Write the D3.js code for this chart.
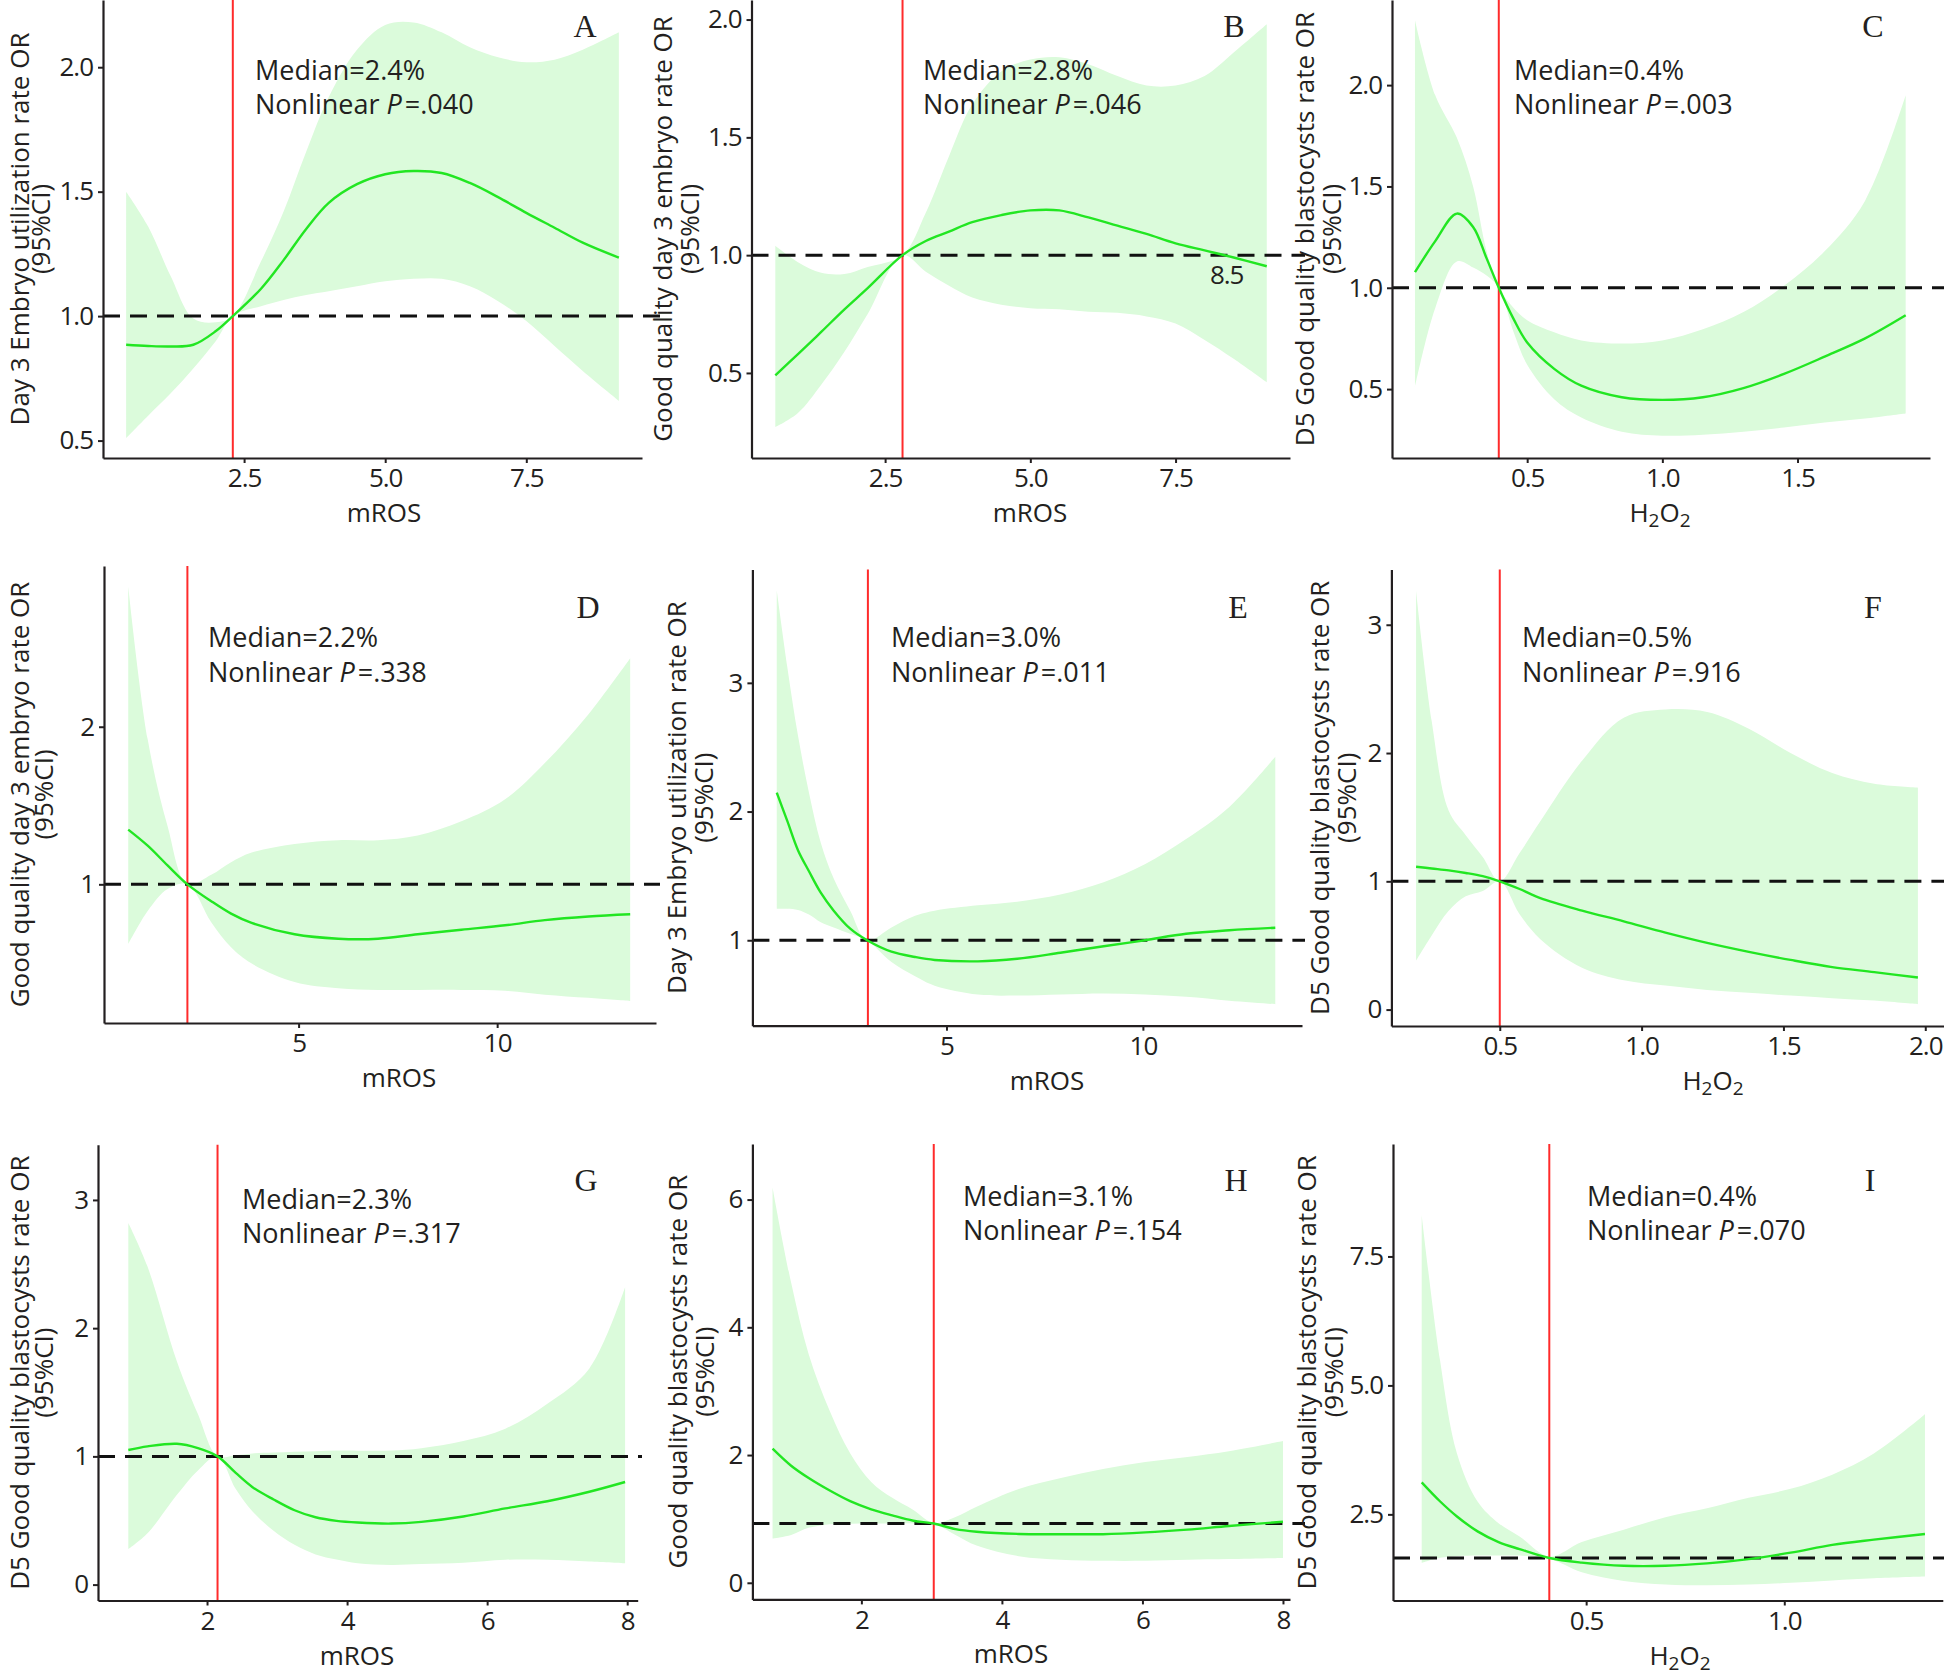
<!DOCTYPE html>
<html><head><meta charset="utf-8">
<script src="https://cdn.jsdelivr.net/npm/d3@7"></script>
<style>
body{margin:0;background:#fff}
svg{display:block;background:#fff}
text{font-family:"Open Sans",sans-serif;fill:#231f20}
</style>
</head><body>
<svg id="chart" width="1944" height="1676"></svg>
<script>
// ---------------- DATA ----------------
const panelIds = ["A","B","C","D","E","F","G","H","I"];

const aX   = [0.41,0.8,1.2,1.6,2.0,2.3,2.8,3.2,3.6,4.0,4.5,5.0,5.5,6.0,6.5,7.0,7.5,8.0,8.5,9.14];
const aFit = [0.885,0.88,0.878,0.885,0.94,1.0,1.11,1.225,1.35,1.455,1.53,1.57,1.583,1.575,1.535,1.478,1.415,1.355,1.295,1.235];
const aHi  = [1.50,1.36,1.16,0.99,0.975,1.0,1.22,1.42,1.66,1.88,2.07,2.17,2.18,2.14,2.08,2.04,2.02,2.03,2.07,2.14];
const aLo  = [0.51,0.60,0.69,0.79,0.90,1.0,1.04,1.065,1.085,1.10,1.12,1.14,1.15,1.15,1.12,1.06,0.98,0.88,0.78,0.66];

const bX   = [0.61,1.0,1.4,1.8,2.2,2.8,3.2,3.6,4.0,4.5,5.0,5.5,6.0,6.5,7.0,7.5,8.0,8.5,9.07];
const bFit = [0.49,0.58,0.674,0.77,0.86,1.0,1.06,1.10,1.14,1.17,1.19,1.19,1.16,1.125,1.09,1.05,1.02,0.99,0.953];
const bHi  = [1.04,0.97,0.925,0.92,0.95,1.0,1.18,1.42,1.64,1.78,1.83,1.84,1.81,1.76,1.72,1.72,1.76,1.86,1.98];
const bLo  = [0.27,0.33,0.45,0.59,0.75,1.0,0.93,0.87,0.82,0.79,0.775,0.77,0.76,0.755,0.74,0.71,0.64,0.56,0.46];

const cX   = [0.085,0.16,0.24,0.3,0.35,0.395,0.45,0.5,0.6,0.7,0.85,1.0,1.15,1.3,1.45,1.6,1.75,1.9];
const cFit = [1.077,1.23,1.366,1.30,1.145,1.0,0.845,0.73,0.60,0.517,0.46,0.447,0.46,0.505,0.575,0.66,0.75,0.864];
const cHi  = [2.32,1.95,1.74,1.50,1.18,1.0,0.90,0.84,0.78,0.74,0.725,0.74,0.795,0.88,1.01,1.18,1.43,1.95];
const cLo  = [0.51,0.90,1.13,1.10,1.06,1.0,0.78,0.62,0.45,0.36,0.29,0.27,0.275,0.29,0.31,0.335,0.355,0.38];

const dX   = [0.71,1.2,1.7,2.2,2.8,3.3,3.8,4.9,6.0,7.0,8.0,9.1,10.2,11.2,12.3,13.35];
const dFit = [1.347,1.245,1.12,1.0,0.893,0.814,0.757,0.683,0.655,0.655,0.683,0.712,0.74,0.773,0.796,0.81];
const dHi  = [2.89,1.92,1.37,1.0,1.06,1.14,1.20,1.256,1.28,1.28,1.31,1.40,1.54,1.77,2.08,2.435];
const dLo  = [0.62,0.83,0.97,1.0,0.76,0.60,0.50,0.38,0.34,0.33,0.33,0.33,0.325,0.30,0.28,0.26];

const eX   = [0.68,0.95,1.22,1.5,1.8,2.13,2.55,2.98,3.6,4.2,4.7,5.8,6.8,7.9,9.0,10.05,11.1,12.2,13.37];
const eFit = [2.147,1.925,1.70,1.536,1.37,1.23,1.09,1.0,0.911,0.87,0.847,0.836,0.856,0.903,0.953,1.0,1.05,1.078,1.097];
const eHi  = [3.717,3.12,2.59,2.147,1.758,1.48,1.23,1.0,1.10,1.19,1.23,1.272,1.30,1.355,1.45,1.59,1.786,2.036,2.425];
const eLo  = [1.244,1.244,1.235,1.20,1.14,1.10,1.05,1.0,0.83,0.72,0.647,0.578,0.57,0.578,0.586,0.578,0.56,0.53,0.503];

const fX   = [0.205,0.26,0.32,0.38,0.44,0.5,0.57,0.643,0.79,0.937,1.084,1.231,1.378,1.525,1.672,1.82,1.974];
const fFit = [1.114,1.10,1.085,1.065,1.04,1.0,0.94,0.869,0.772,0.688,0.60,0.52,0.45,0.387,0.331,0.292,0.25];
const fHi  = [3.265,2.25,1.55,1.36,1.19,1.0,1.22,1.468,1.94,2.276,2.34,2.32,2.19,2.0,1.844,1.76,1.73];
const fLo  = [0.38,0.577,0.77,0.883,0.925,1.0,0.744,0.549,0.326,0.228,0.187,0.153,0.131,0.109,0.089,0.07,0.042];

const gX   = [0.876,1.15,1.57,1.87,2.15,2.41,2.65,2.95,3.25,3.55,3.85,4.15,4.63,5.06,5.66,6.26,6.86,7.46,7.97];
const gFit = [1.05,1.078,1.098,1.064,1.0,0.871,0.76,0.664,0.58,0.525,0.497,0.484,0.476,0.489,0.531,0.594,0.65,0.724,0.80];
const gHi  = [2.82,2.48,1.74,1.33,1.0,1.009,1.023,1.03,1.037,1.04,1.045,1.044,1.045,1.064,1.12,1.216,1.41,1.686,2.32];
const gLo  = [0.276,0.40,0.70,0.89,1.0,0.746,0.57,0.42,0.31,0.235,0.195,0.166,0.153,0.16,0.171,0.194,0.194,0.18,0.166];

const hX   = [0.736,1.0,1.25,1.55,1.84,2.14,2.44,2.74,3.03,3.34,3.64,4.24,4.84,5.44,6.04,6.64,7.23,8.0];
const hFit = [2.10,1.833,1.64,1.444,1.278,1.15,1.055,0.972,0.928,0.84,0.80,0.765,0.761,0.761,0.789,0.833,0.889,0.956];
const hHi  = [6.19,4.7,3.58,2.69,2.03,1.58,1.33,1.14,0.935,1.03,1.19,1.47,1.64,1.78,1.89,1.97,2.06,2.22];
const hLo  = [0.694,0.75,0.86,0.917,0.925,0.928,0.93,0.93,0.92,0.75,0.583,0.417,0.361,0.344,0.344,0.361,0.372,0.389];

const iX   = [0.085,0.131,0.174,0.226,0.279,0.332,0.407,0.489,0.595,0.70,0.805,0.91,1.016,1.121,1.226,1.355];
const iFit = [3.12,2.754,2.459,2.17,1.963,1.826,1.654,1.565,1.503,1.503,1.55,1.633,1.757,1.908,2.01,2.12];
const iHi  = [8.3,5.5,3.68,2.75,2.33,2.07,1.68,1.963,2.204,2.445,2.617,2.82,2.995,3.27,3.68,4.44];
const iLo  = [1.56,1.66,1.69,1.70,1.70,1.70,1.64,1.38,1.21,1.138,1.124,1.138,1.173,1.22,1.262,1.296];

const medianLine = [2.3, 2.8, 0.395, 2.2, 3.0, 0.5, 2.15, 3.03, 0.407];
const refLine    = [1, 1, 1, 1, 1, 1, 1, 0.928, 1.654];
const medianText = ["2.4%","2.8%","0.4%","2.2%","3.0%","0.5%","2.3%","3.1%","0.4%"];
const pText      = [".040",".046",".003",".338",".011",".916",".317",".154",".070"];

const xTickVals = [[2.5,5,7.5],[2.5,5,7.5],[0.5,1,1.5],[5,10],[5,10],[0.5,1,1.5,2],[2,4,6,8],[2,4,6,8],[0.5,1]];
const xTickText = [["2.5","5.0","7.5"],["2.5","5.0","7.5"],["0.5","1.0","1.5"],["5","10"],["5","10"],["0.5","1.0","1.5","2.0"],["2","4","6","8"],["2","4","6","8"],["0.5","1.0"]];
const yTickVals = [[0.5,1,1.5,2],[0.5,1,1.5,2],[0.5,1,1.5,2],[1,2],[1,2,3],[0,1,2,3],[0,1,2,3],[0,2,4,6],[2.5,5,7.5]];
const yTickText = [["0.5","1.0","1.5","2.0"],["0.5","1.0","1.5","2.0"],["0.5","1.0","1.5","2.0"],["1","2"],["1","2","3"],["0","1","2","3"],["0","1","2","3"],["0","2","4","6"],["2.5","5.0","7.5"]];

const yTitles = ["Day 3 Embryo utilization rate OR","Good quality day 3 embryo rate OR","D5 Good quality blastocysts rate OR",
                 "Good quality day 3 embryo rate OR","Day 3 Embryo utilization rate OR","D5 Good quality blastocysts rate OR",
                 "D5 Good quality blastocysts rate OR","Good quality blastocysts rate OR","D5 Good quality blastocysts rate OR"];
const xTitles = ["mROS","mROS","H2O2","mROS","mROS","H2O2","mROS","mROS","H2O2"];
const extraLabel = {B: {x: 8.38, y: 0.877, text: "8.5"}};

// ---------------- LAYOUT (pixels / scale domains) ----------------
const layout = [
  {rect:[103,0,642,458],          xDom:[0,9.55],      yDom:[0.43,2.27],   dashEnd:660,  ann:[255,79.5],   letter:[585,37],   yOff:74, yOff2:53, xlab:384},
  {rect:[751.5,0,1290,458],       xDom:[0.2,9.47],    yDom:[0.139,2.083], dashEnd:1305, ann:[923,79.5],   letter:[1234,37],  yOff:80, yOff2:53, xlab:1030},
  {rect:[1392,0,1930,458],        xDom:[0,1.99],      yDom:[0.16,2.42],   dashEnd:1944, ann:[1514,79.5],  letter:[1873,37],  yOff:78, yOff2:51, xlab:1660},
  {rect:[104,566,656,1023],       xDom:[0.1,14.0],    yDom:[0.12,3.02],   dashEnd:660,  ann:[208,647],    letter:[588,618],  yOff:75, yOff2:51, xlab:399},
  {rect:[752.4,569.6,1302,1025.7],xDom:[0.06,14.05],  yDom:[0.336,3.88],  dashEnd:1305, ann:[891,647],    letter:[1238,618], yOff:66, yOff2:39, xlab:1047},
  {rect:[1391.4,569.6,1944,1026], xDom:[0.118,2.066], yDom:[-0.128,3.43], dashEnd:1944, ann:[1522,647],   letter:[1873,618], yOff:62, yOff2:35, xlab:1713},
  {rect:[98,1144.8,637.7,1600.5], xDom:[0.443,8.15],  yDom:[-0.124,3.43], dashEnd:642,  ann:[242,1208.6], letter:[586,1191], yOff:69, yOff2:45, xlab:357},
  {rect:[752.4,1144,1290,1599.4], xDom:[0.449,8.1],   yDom:[-0.26,6.87],  dashEnd:1305, ann:[963,1205.8], letter:[1236,1191],yOff:65, yOff2:38, xlab:1011},
  {rect:[1393,1144,1942.8,1600.5],xDom:[0.0126,1.4],  yDom:[0.83,9.68],   dashEnd:1944, ann:[1587,1205.8],letter:[1870,1191],yOff:77, yOff2:50, xlab:1680}
];

const seriesX   = [aX,bX,cX,dX,eX,fX,gX,hX,iX];
const seriesFit = [aFit,bFit,cFit,dFit,eFit,fFit,gFit,hFit,iFit];
const seriesHi  = [aHi,bHi,cHi,dHi,eHi,fHi,gHi,hHi,iHi];
const seriesLo  = [aLo,bLo,cLo,dLo,eLo,fLo,gLo,hLo,iLo];

// ---------------- DRAW ----------------
const svg = d3.select("#chart");
const INK = "#231f20";
const FS = 26;
const FS_ANN = 27;
const curve = d3.curveCatmullRom.alpha(0.5);

panelIds.forEach((id, k) => {
  const L = layout[k];
  const [x0, y0, x1, y1] = L.rect;
  const x = d3.scaleLinear().domain(L.xDom).range([x0, x1]);
  const y = d3.scaleLinear().domain(L.yDom).range([y1, y0]);
  const rows = seriesX[k].map((v, i) => ({x: v, fit: seriesFit[k][i], lo: seriesLo[k][i], hi: seriesHi[k][i]}));
  const g = svg.append("g").attr("class", "panel-" + id);

  // confidence band
  g.append("path").datum(rows)
    .attr("fill", "#dbfbdb")
    .attr("d", d3.area().x(d => x(d.x)).y0(d => y(d.lo)).y1(d => y(d.hi)).curve(curve));

  // median (red) line
  g.append("line")
    .attr("x1", x(medianLine[k])).attr("x2", x(medianLine[k]))
    .attr("y1", y0).attr("y2", y1)
    .attr("stroke", "#ff2b2b").attr("stroke-width", 2);

  // reference dashed line
  g.append("line")
    .attr("x1", x0).attr("x2", L.dashEnd)
    .attr("y1", y(refLine[k])).attr("y2", y(refLine[k]))
    .attr("stroke", "#111").attr("stroke-width", 3)
    .attr("stroke-dasharray", "17,10");

  // fitted curve
  g.append("path").datum(rows)
    .attr("fill", "none").attr("stroke", "#22e622").attr("stroke-width", 2.4)
    .attr("d", d3.line().x(d => x(d.x)).y(d => y(d.fit)).curve(curve));

  // axes
  const xa = g.append("g").attr("transform", `translate(0,${y1})`)
    .call(d3.axisBottom(x).tickValues(xTickVals[k]).tickFormat((d, i) => xTickText[k][i])
      .tickSizeInner(5).tickSizeOuter(0).tickPadding(6));
  const ya = g.append("g").attr("transform", `translate(${x0},0)`)
    .call(d3.axisLeft(y).tickValues(yTickVals[k]).tickFormat((d, i) => yTickText[k][i])
      .tickSizeInner(5).tickSizeOuter(0).tickPadding(5));
  [xa, ya].forEach(a => {
    a.select(".domain").attr("stroke", INK).attr("stroke-width", 2.2);
    a.selectAll(".tick line").attr("stroke", INK).attr("stroke-width", 2);
    a.selectAll(".tick text").attr("font-size", FS).attr("font-family", '"Open Sans",sans-serif')
      .attr("fill", INK).style("letter-spacing", "-1px");
  });

  // y title (two lines)
  const cy = (y0 + y1) / 2;
  g.append("text")
    .attr("transform", `translate(${x0 - L.yOff},${cy}) rotate(-90)`)
    .attr("text-anchor", "middle").attr("font-size", FS).text(yTitles[k]);
  g.append("text")
    .attr("transform", `translate(${x0 - L.yOff2},${cy}) rotate(-90)`)
    .attr("text-anchor", "middle").attr("font-size", FS).text("(95%CI)");

  // x title
  const xt = g.append("text").attr("x", L.xlab).attr("y", y1 + 64)
    .attr("text-anchor", "middle").attr("font-size", FS);
  if (xTitles[k] === "H2O2") {
    xt.append("tspan").text("H");
    xt.append("tspan").attr("font-size", 19).attr("dy", 5).text("2");
    xt.append("tspan").attr("dy", -5).text("O");
    xt.append("tspan").attr("font-size", 19).attr("dy", 5).text("2");
  } else {
    xt.text(xTitles[k]);
  }

  // annotation
  g.append("text").attr("x", L.ann[0]).attr("y", L.ann[1]).attr("font-size", FS_ANN)
    .text("Median=" + medianText[k]);
  const t2 = g.append("text").attr("x", L.ann[0]).attr("y", L.ann[1] + 34.5).attr("font-size", FS_ANN);
  t2.append("tspan").text("Nonlinear ");
  t2.append("tspan").attr("font-style", "italic").text("P");
  t2.append("tspan").attr("dx", 3).text("=" + pText[k]);

  // panel letter
  g.append("text").attr("x", L.letter[0]).attr("y", L.letter[1])
    .attr("text-anchor", "middle").attr("font-size", 32)
    .style("font-family", '"Liberation Serif","Times New Roman",serif')
    .text(id);

  // extra label
  if (extraLabel[id]) {
    const e = extraLabel[id];
    g.append("text").attr("x", x(e.x)).attr("y", y(e.y))
      .attr("text-anchor", "middle").attr("font-size", FS).style("letter-spacing", "-1px").text(e.text);
  }
});
</script>
</body></html>
